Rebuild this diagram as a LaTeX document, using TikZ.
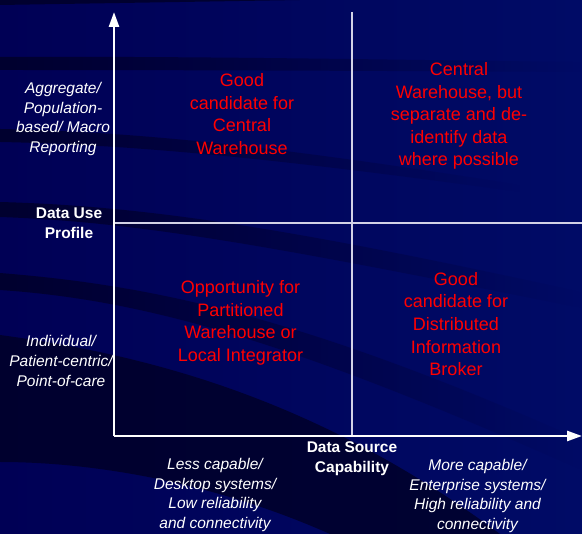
\documentclass[tikz,border=0pt]{standalone}
\usepackage{fontspec}
\setmainfont{Liberation Sans}
\usetikzlibrary{arrows.meta,positioning,fadings}
\definecolor{navybg}{HTML}{000055}
\definecolor{navyhi}{HTML}{000B66}
\definecolor{darkband}{HTML}{000022}
\definecolor{quadred}{HTML}{FF0000}
\definecolor{gridline}{HTML}{D2D2E6}

\begin{document}
\begin{tikzpicture}[
    x=1pt,y=-1pt,
    axis/.style={-{Triangle[length=15pt,width=10pt]},line width=2.6pt,white},
    divider/.style={line width=1.3pt,gridline},
    band/.style={fill=darkband,fill opacity=.75,draw=none},
    quad/.style={align=center,inner sep=0pt,text=quadred,
                 font=\fontsize{18}{22.6}\selectfont},
    axislabel/.style={align=center,inner sep=0pt,text=white,
                  font=\fontsize{15.5}{19.6}\selectfont\itshape},
    axistitle/.style={align=center,inner sep=0pt,text=white,
                  font=\fontsize{15.5}{20}\selectfont\bfseries}
  ]
    \useasboundingbox (0,0) rectangle (582,534);
    \shade[left color=navybg,right color=navyhi] (0,0) rectangle (582,534);

    % dark swooshes across the background
    \begin{scope}
      \clip (0,0) rectangle (582,534);
      \fill[band] (0,0) -- (300,0) .. controls (150,2) .. (0,5) -- cycle;
      \fill[band,path fading=east] (0,57) .. controls (200,56) and (400,60) .. (582,62)
        -- (582,72) .. controls (400,71) and (200,70) .. (0,70) -- cycle;
      \fill[band,path fading=east] (0,129) .. controls (150,132) and (300,150) .. (520,185)
        -- (520,192) .. controls (300,162) and (150,145) .. (0,142) -- cycle;
      \fill[band,path fading=east] (0,202) .. controls (150,206) and (300,230) .. (582,292)
        -- (582,308) .. controls (300,252) and (150,222) .. (0,217) -- cycle;
      \fill[band,path fading=east] (0,273) .. controls (150,285) and (300,315) .. (582,440)
        -- (582,470) .. controls (300,345) and (150,300) .. (0,290) -- cycle;
      \fill[band] (0,335) .. controls (150,355) and (320,400) .. (500,534)
        -- (330,534) .. controls (220,485) and (100,462) .. (0,462) -- cycle;
    \end{scope}

    % axes and quadrant lines
    \coordinate (origin) at (114,436);
    \coordinate (ytop) at (114,12);
    \coordinate (xend) at (582,436);
    \coordinate (midtop) at (352,12);
    \coordinate (midbot) at (352,436);
    \coordinate (midleft) at (114,223);
    \coordinate (midright) at (582,223);

    \draw[divider] (midtop) -- (midbot);
    \draw[divider] (midleft) -- (midright);
    \draw[axis] (origin) -- (ytop);
    \draw[axis] (origin) -- (xend);

    % quadrant texts
    \node[quad] (goodcentral) at (242,114) {Good\\candidate for\\Central\\Warehouse};
    \node[quad] (deident) at (459,116) {Central\\Warehouse, but\\separate and de-\\identify data\\where possible};
    \node[quad] (partition) at (240.5,323) {Opportunity for\\Partitioned\\Warehouse or\\Local Integrator};
    \node[quad] (broker) at (456,324) {Good\\candidate for\\Distributed\\Information\\Broker};

    % axis labels
    \node[axislabel] (aggregate) at (63,119) {Aggregate/\\Population-\\based/ Macro\\Reporting};
    \node[axistitle] (useprofile) at (69,223) {Data Use\\Profile};
    \node[axislabel] (individual) at (61,361) {Individual/\\Patient-centric/\\Point-of-care};
    \node[axistitle] (srccap) at (352,459) {Data Source\\Capability};
    \node[axislabel] (lesscap) at (215,495) {Less capable/\\Desktop systems/\\Low reliability\\and connectivity};
    \node[axislabel] (morecap) at (477.5,496) {More capable/\\Enterprise systems/\\High reliability and\\connectivity};
  \end{tikzpicture}
\end{document}
